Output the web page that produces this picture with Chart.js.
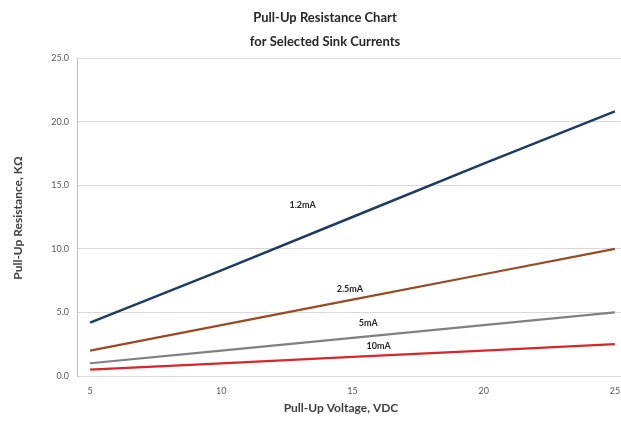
<!DOCTYPE html>
<html>
<head>
<meta charset="utf-8">
<script src="https://cdn.jsdelivr.net/npm/chart.js@4/dist/chart.umd.min.js"></script>
<style>
  html, body { margin: 0; padding: 0; background: #ffffff; }
  #wrap { width: 621px; height: 426px; overflow: hidden; position: relative; }
  canvas { display: block; }
</style>
</head>
<body>
<div id="wrap"><canvas id="c" width="640" height="426"></canvas></div>
<script>
// ---- data ----
const voltages = [5, 10, 15, 20, 25];
const seriesNames = ['1.2mA', '2.5mA', '5mA', '10mA'];
const r1_2mA = [4.2, 8.3, 12.5, 16.7, 20.8];
const r2_5mA = [2.0, 4.0, 6.0, 8.0, 10.0];
const r5mA   = [1.0, 2.0, 3.0, 4.0, 5.0];
const r10mA  = [0.5, 1.0, 1.5, 2.0, 2.5];
const yTicks = [0, 5, 10, 15, 20, 25];
const xTicks = [5, 10, 15, 20, 25];
const titleLines = ['Pull-Up Resistance Chart', 'for Selected Sink Currents'];
const xTitle = 'Pull-Up Voltage, VDC';
const yTitle = 'Pull-Up Resistance, K\u03A9';

// label anchor points (in data units) for the in-plot series labels
const labelAnchors = [
  { x: 13.1, y: 13.4 },
  { x: 14.9, y: 6.85 },
  { x: 15.6, y: 4.15 },
  { x: 16.0, y: 2.35 }
];

const colors = ['#1f3b63', '#9a4a22', '#808080', '#d8262c'];
const allSeries = [r1_2mA, r2_5mA, r5mA, r10mA];

const datasets = allSeries.map((s, i) => ({
  label: seriesNames[i],
  data: voltages.map((v, k) => ({ x: v, y: s[k] })),
  borderColor: colors[i],
  backgroundColor: colors[i],
  borderWidth: i === 0 ? 2.5 : 2.2,
  pointRadius: 0,
  tension: 0,
  fill: false
}));

const FONT = 'Lato, "Open Sans", "DejaVu Sans", sans-serif';

const textPlugin = {
  id: 'texts',
  afterDraw(chart) {
    const ctx = chart.ctx;
    const xs = chart.scales.x, ys = chart.scales.y;
    ctx.save();
    // chart title
    ctx.fillStyle = '#262626';
    ctx.font = 'bold 13px ' + FONT;
    ctx.textAlign = 'center';
    ctx.textBaseline = 'middle';
    ctx.fillText(titleLines[0], 325, 18);
    ctx.fillText(titleLines[1], 325, 42);
    // axis titles
    ctx.fillStyle = '#404040';
    ctx.font = 'bold 12px ' + FONT;
    ctx.fillText(xTitle, 341, 408);
    ctx.save();
    ctx.translate(18, 218);
    ctx.rotate(-Math.PI / 2);
    ctx.fillText(yTitle, 0, 0);
    ctx.restore();
    // series labels
    ctx.fillStyle = '#262626';
    ctx.font = 'bold 9px ' + FONT;
    seriesNames.forEach((n, i) => {
      ctx.fillText(n, xs.getPixelForValue(labelAnchors[i].x), ys.getPixelForValue(labelAnchors[i].y));
    });
    ctx.restore();
  }
};

new Chart(document.getElementById('c'), {
  type: 'line',
  data: { datasets },
  options: {
    responsive: false,
    animation: false,
    layout: { padding: { top: 58, right: 12, left: 0, bottom: 0 } },
    plugins: { legend: { display: false }, tooltip: { enabled: false }, title: { display: false } },
    scales: {
      x: {
        type: 'linear',
        min: 4.5,
        max: 25.5,
        afterBuildTicks(scale) { scale.ticks = xTicks.map(v => ({ value: v })); },
        afterFit(scale) { scale.height = 50; },
        grid: { display: false, drawTicks: false },
        border: { display: false },
        ticks: {
          color: '#595959',
          font: { family: FONT, size: 9 },
          padding: 10,
          maxRotation: 0,
          autoSkip: false,
          callback: v => String(v)
        }
      },
      y: {
        min: 0,
        max: 25,
        afterBuildTicks(scale) { scale.ticks = yTicks.map(v => ({ value: v })); },
        afterFit(scale) { scale.width = 77; },
        grid: { color: '#d9d9d9', lineWidth: 1, drawTicks: false },
        border: { display: true, color: '#bfbfbf', width: 1 },
        ticks: {
          color: '#595959',
          font: { family: FONT, size: 9 },
          padding: 8,
          callback: v => Number(v).toFixed(1)
        }
      }
    }
  },
  plugins: [textPlugin]
});
</script>
</body>
</html>
